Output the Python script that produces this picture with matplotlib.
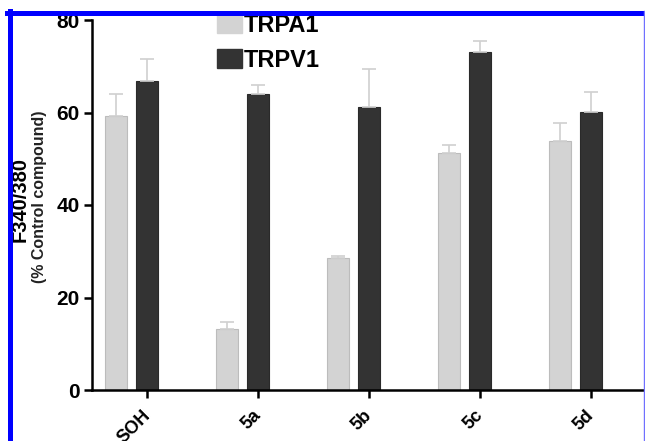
import matplotlib
matplotlib.use("Agg")
import matplotlib.pyplot as plt
from matplotlib.lines import Line2D
from matplotlib.patches import Patch
import numpy as np

plt.rcParams['font.family'] = ['Liberation Sans', 'DejaVu Sans']

categories = ["SOH", "5a", "5b", "5c", "5d"]
trpa1 = [59.2, 13.2, 28.5, 51.2, 53.8]
trpa1_err = [4.8, 1.5, 0.5, 1.8, 3.9]
trpv1 = [66.8, 64.0, 61.2, 73.1, 60.1]
trpv1_err = [4.8, 1.9, 8.2, 2.4, 4.3]
yticks = [0, 20, 40, 60, 80]

W, H = 645, 441
fig = plt.figure(figsize=(W / 100, H / 100), dpi=100)
ax = fig.add_axes([92 / W, 51 / H, (W - 92) / W, 370 / H])

x = np.arange(len(categories))
bw = 0.19
off = 31 / 111
ax.bar(x - off, trpa1, bw, color="#d3d3d3", edgecolor="#bcbcbc", linewidth=0.8,
       yerr=[np.zeros(len(trpa1)), trpa1_err], capsize=5,
       error_kw=dict(ecolor="#d0d0d0", elinewidth=1.2, capthick=1.2), zorder=2)
ax.bar(x, trpv1, bw, color="#333333", edgecolor="#2a2a2a", linewidth=0.8,
       yerr=[np.zeros(len(trpv1)), trpv1_err], capsize=5,
       error_kw=dict(ecolor="#d0d0d0", elinewidth=1.2, capthick=1.2), zorder=2)

ax.set_xlim(-55 / 111, (W - 147) / 111)
ax.set_ylim(0, 80)
ax.set_yticks(yticks)
ax.set_yticklabels([str(t) for t in yticks], fontsize=15, fontweight="bold")
ax.set_xticks(x)
ax.set_xticklabels([])
for xi, cat in zip(x, categories):
    ax.annotate(cat, xy=(xi, 0), xycoords=("data", "axes fraction"),
                xytext=(-4, -12), textcoords="offset points", rotation=45,
                ha="right", va="top", rotation_mode="anchor",
                fontsize=13, fontweight="bold", annotation_clip=False)
for s in ["top", "right"]:
    ax.spines[s].set_visible(False)
for s in ["left", "bottom"]:
    ax.spines[s].set_linewidth(1.8)
ax.tick_params(axis="both", direction="out", length=6, width=1.8, pad=3)

fig.text(20 / W, 1 - 199 / H, "F340/380", rotation=90, fontsize=14.5, fontweight="bold",
         ha="center", va="center")
fig.text(40 / W, 1 - 197 / H, "(% Control compound)", rotation=90, fontsize=11.5,
         fontweight="bold", ha="center", va="center", color="#222222")

handles = [Patch(facecolor="#d3d3d3", edgecolor="#d3d3d3"),
           Patch(facecolor="#333333", edgecolor="#333333")]
leg = fig.legend(handles, ["TRPA1", "TRPV1"], loc="upper left",
                 bbox_to_anchor=(198 / W, 1 + 5 / H), frameon=False,
                 prop=dict(size=17, weight="bold"), handlelength=1.05,
                 handleheight=0.85, handletextpad=0.1, labelspacing=0.5,
                 borderpad=0.3)

# blue frame
blue = "#0000ff"
fig.add_artist(Line2D([7 / W, 1], [1 - 12.5 / H, 1 - 12.5 / H], color=blue, lw=3.6,
                      transform=fig.transFigure, zorder=10))
fig.add_artist(Line2D([9.5 / W, 9.5 / W], [0, 1 - 11 / H], color=blue, lw=3.6,
                      transform=fig.transFigure, zorder=10))
fig.add_artist(Line2D([644 / W, 644 / W], [0, 1 - 11 / H], color="#7070ff", lw=1.0,
                      transform=fig.transFigure, zorder=10))
# white above top border
fig.add_artist(plt.Rectangle((0, 1 - 10.5 / H), 1, 10.5 / H, color="white",
                             transform=fig.transFigure, zorder=9))

fig.savefig("out.png", dpi=100)
